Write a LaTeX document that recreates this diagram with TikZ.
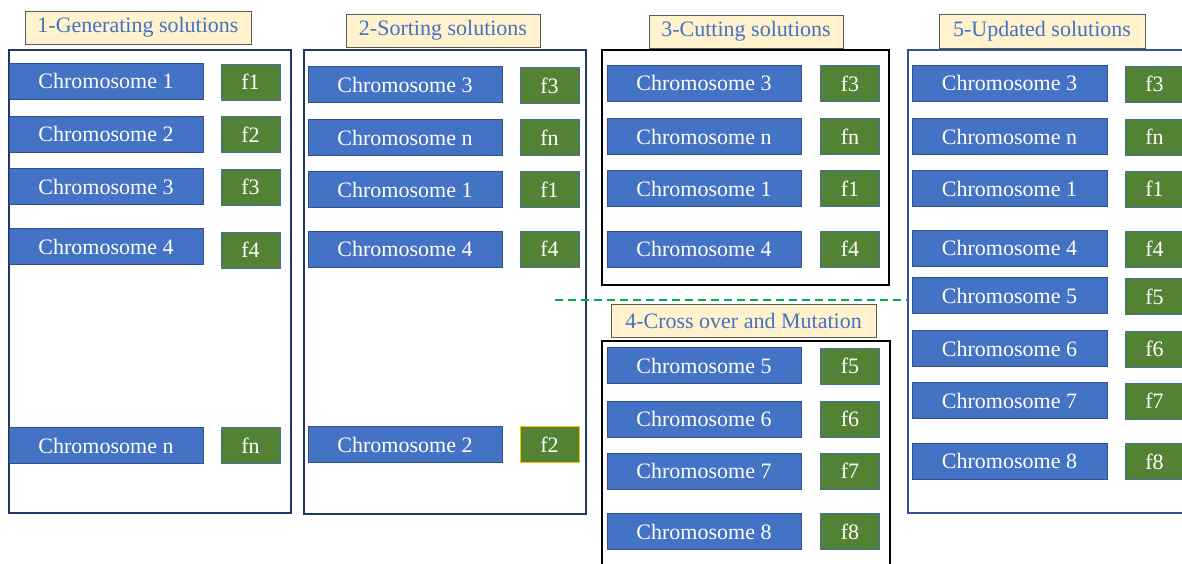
\documentclass[tikz,border=0pt]{standalone}
\usepackage{fontspec}
\setmainfont{Liberation Serif}
\definecolor{chrblue}{HTML}{4472C4}
\definecolor{chrborder}{HTML}{2F528F}
\definecolor{fgreen}{HTML}{548235}
\definecolor{fborder}{HTML}{41719C}
\definecolor{titlefill}{HTML}{FFF2CC}
\definecolor{titleborder}{HTML}{595959}
\definecolor{navy}{HTML}{1F3864}
\definecolor{frameblue}{HTML}{2F5597}
\definecolor{dashgreen}{HTML}{00B050}
\definecolor{goldborder}{HTML}{FFC000}
\begin{document}
\begin{tikzpicture}[x=1pt,y=-1pt,
  chr/.style={draw=chrborder, line width=0.8pt, fill=chrblue, text=white,
    minimum width=194pt, minimum height=36pt, inner sep=0pt,
    font=\fontsize{22}{24}\selectfont},
  fval/.style={draw=fborder, line width=0.8pt, fill=fgreen, text=white,
    minimum width=59pt, minimum height=36pt, inner sep=0pt,
    font=\fontsize{22}{24}\selectfont},
  stagetitle/.style={draw=titleborder, line width=1pt, fill=titlefill, text=chrblue,
    minimum height=33pt, inner sep=0pt, font=\fontsize{22}{24}\selectfont},
  frame/.style={line width=2pt}
]
\useasboundingbox (0,0) rectangle (1182,563);
\clip (0,0) rectangle (1182,563);
\fill[white] (0,0) rectangle (1182,563);

% frames
\draw[frame, draw=navy] (9,50) rectangle (291,513);
\draw[frame, draw=navy] (304,50) rectangle (586,514);
\draw[frame, draw=black] (602,50) rectangle (889,285);
\draw[frame, draw=black] (602,341) rectangle (890,575);
\draw[line width=1.5pt, draw=frameblue] (908,50) rectangle (1195,513);

% titles
\node[stagetitle, minimum width=226pt] (t1) at (138,27.5) {1-Generating solutions};
\node[stagetitle, minimum width=194pt] (t2) at (443,30.5) {2-Sorting solutions};
\node[stagetitle, minimum width=194pt] (t3) at (746,31.5) {3-Cutting solutions};
\node[stagetitle, minimum width=265pt] (t4) at (743.5,320.5) {4-Cross over and Mutation};
\node[stagetitle, minimum width=206pt, minimum height=34pt] (t5) at (1042,31) {5-Updated solutions};

% column 1
\node[chr] (a1) at (106,81) {Chromosome 1};
\node[fval] (fa1) at (250.5,82) {f1};
\node[chr] (a2) at (106,134) {Chromosome 2};
\node[fval] (fa2) at (250.5,134.5) {f2};
\node[chr] (a3) at (106,186.5) {Chromosome 3};
\node[fval] (fa3) at (250.5,187) {f3};
\node[chr] (a4) at (106,246.5) {Chromosome 4};
\node[fval] (fa4) at (250.5,250) {f4};
\node[chr] (an) at (106,445.5) {Chromosome n};
\node[fval] (fan) at (250.5,445.5) {fn};

% column 2
\node[chr] (b1) at (405,84.5) {Chromosome 3};
\node[fval] (fb1) at (549.5,85.5) {f3};
\node[chr] (b2) at (405,137.5) {Chromosome n};
\node[fval] (fb2) at (549.5,137.5) {fn};
\node[chr] (b3) at (405,189.5) {Chromosome 1};
\node[fval] (fb3) at (549.5,189.5) {f1};
\node[chr] (b4) at (405,249) {Chromosome 4};
\node[fval] (fb4) at (549.5,249) {f4};
\node[chr] (b5) at (405,444.5) {Chromosome 2};
\node[fval, draw=goldborder] (fb5) at (549.5,444.5) {f2};

% column 3
\node[chr] (c1) at (704,83) {Chromosome 3};
\node[fval] (fc1) at (850,83.5) {f3};
\node[chr] (c2) at (704,136.5) {Chromosome n};
\node[fval] (fc2) at (850,136.5) {fn};
\node[chr] (c3) at (704,188.5) {Chromosome 1};
\node[fval] (fc3) at (850,188.5) {f1};
\node[chr] (c4) at (704,249) {Chromosome 4};
\node[fval] (fc4) at (850,249) {f4};

% separator
\coordinate (sepL) at (555,300);
\coordinate (sepR) at (907,300);
\draw[dashgreen, line width=2.5pt, dash pattern=on 8pt off 5pt] (sepL) -- (sepR);

% column 4
\node[chr] (d1) at (704,365.5) {Chromosome 5};
\node[fval] (fd1) at (850,366) {f5};
\node[chr] (d2) at (704,419) {Chromosome 6};
\node[fval] (fd2) at (850,419) {f6};
\node[chr] (d3) at (704,471) {Chromosome 7};
\node[fval] (fd3) at (850,471) {f7};
\node[chr] (d4) at (704,531.5) {Chromosome 8};
\node[fval] (fd4) at (850,531.5) {f8};

% column 5
\node[chr, minimum width=195pt] (e1) at (1009.5,83) {Chromosome 3};
\node[fval] (fe1) at (1154.5,84) {f3};
\node[chr, minimum width=195pt] (e2) at (1009.5,136.5) {Chromosome n};
\node[fval] (fe2) at (1154.5,137) {fn};
\node[chr, minimum width=195pt] (e3) at (1009.5,188.5) {Chromosome 1};
\node[fval] (fe3) at (1154.5,189) {f1};
\node[chr, minimum width=195pt] (e4) at (1009.5,248) {Chromosome 4};
\node[fval] (fe4) at (1154.5,249) {f4};
\node[chr, minimum width=195pt] (e5) at (1009.5,295.5) {Chromosome 5};
\node[fval] (fe5) at (1154.5,296.5) {f5};
\node[chr, minimum width=195pt] (e6) at (1009.5,348.5) {Chromosome 6};
\node[fval] (fe6) at (1154.5,349) {f6};
\node[chr, minimum width=195pt] (e7) at (1009.5,400.5) {Chromosome 7};
\node[fval] (fe7) at (1154.5,401) {f7};
\node[chr, minimum width=195pt] (e8) at (1009.5,461) {Chromosome 8};
\node[fval] (fe8) at (1154.5,461.5) {f8};
\end{tikzpicture}
\end{document}
